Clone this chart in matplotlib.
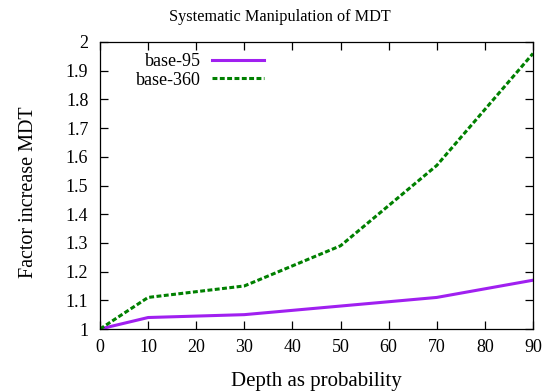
import matplotlib
matplotlib.use("Agg")
import matplotlib.pyplot as plt

depth = [0, 10, 30, 50, 70, 90]
base_95 = [1.0, 1.04, 1.05, 1.08, 1.11, 1.17]
base_360 = [1.0, 1.11, 1.15, 1.29, 1.57, 1.96]
x_ticks = list(range(0, 91, 10))
y_ticks = [1.0, 1.1, 1.2, 1.3, 1.4, 1.5, 1.6, 1.7, 1.8, 1.9, 2.0]
y_tick_labels = ["1", "1.1", "1.2", "1.3", "1.4", "1.5", "1.6", "1.7", "1.8", "1.9", "2"]

plt.rcParams["font.family"] = ["Liberation Serif", "DejaVu Serif"]

W, H = 550, 391
fig = plt.figure(figsize=(W / 100, H / 100), dpi=100)
ax = fig.add_axes([100 / W, 1 - 329 / H, 433 / W, 287 / H])

ax.plot(depth, base_95, color="#a020f0", lw=2.2, label="base-95")
ax.plot(depth, base_360, color="#008000", lw=2.2, ls=(0, (1.6, 0.8)), label="base-360")

ax.set_xlim(0, 90)
ax.set_ylim(1.0, 2.0)
ax.set_xticks(x_ticks)
ax.set_yticks(y_ticks)
ax.set_yticklabels(y_tick_labels)
ax.tick_params(direction="in", top=True, right=True, length=5.8, width=0.9, labelsize=13)
ax.tick_params(axis="y", pad=8.4)
ax.tick_params(axis="x", pad=7)
for s in ax.spines.values():
    s.set_linewidth(0.9)

fig.text(280 / W, 1 - 20.7 / H, "Systematic Manipulation of MDT", fontsize=11.7,
         ha="center", va="baseline")
fig.text(316.7 / W, 1 - 385.7 / H, "Depth as probability", fontsize=15,
         ha="center", va="baseline")
fig.text(33.3 / W, 1 - 192.5 / H, "Factor increase MDT", fontsize=14.5,
         rotation=90, rotation_mode="anchor", ha="center", va="baseline")

leg = ax.legend(loc="upper right", bbox_to_anchor=(264.3 / W, 1 - 53 / H),
                bbox_transform=fig.transFigure, frameon=False,
                markerfirst=False, handlelength=2.91, handletextpad=0.6,
                labelspacing=0.1, borderpad=0.0, borderaxespad=0.0, fontsize=13)
for t in leg.get_texts():
    t.set_ha("right")
leg._legend_box.align = "right"

fig.savefig("out.png", dpi=100)
